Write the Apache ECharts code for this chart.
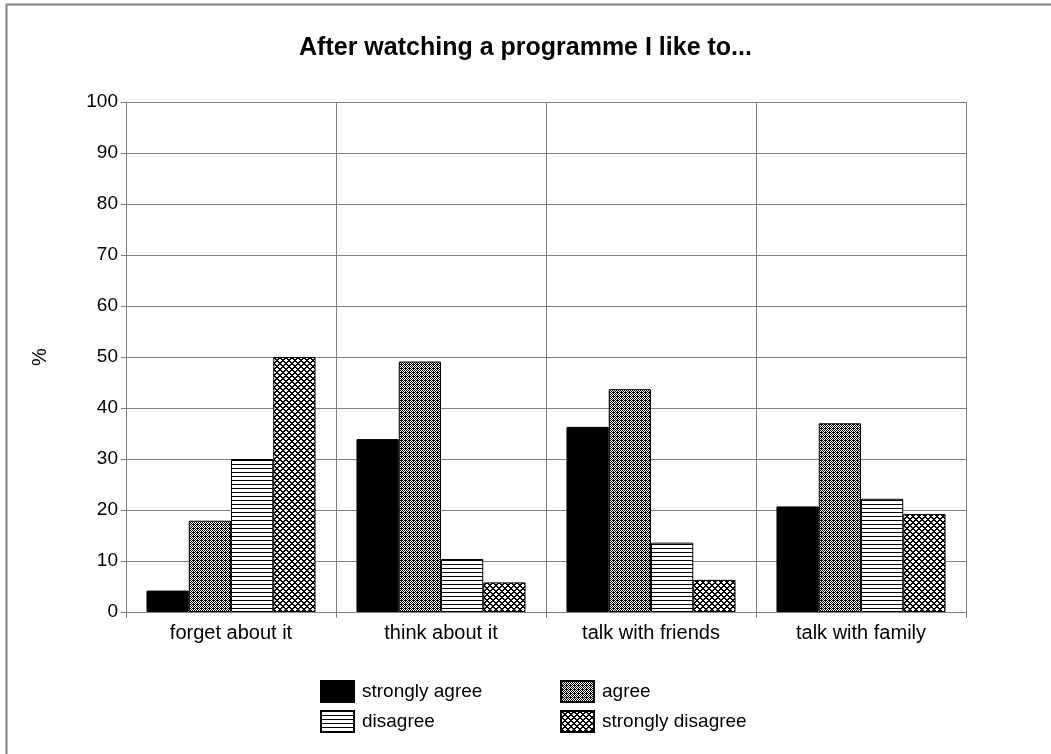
<!DOCTYPE html>
<html>
<head>
<meta charset="utf-8">
<script src="https://cdn.jsdelivr.net/npm/echarts@6/dist/echarts.min.js"></script>
<style>
html,body{margin:0;padding:0;background:#fff;}
#chart{width:1051px;height:754px;}
</style>
</head>
<body>
<div id="chart"></div>
<script>
const titleText = 'After watching a programme I like to...';
const categories = ['forget about it', 'think about it', 'talk with friends', 'talk with family'];
const seriesNames = ['strongly agree', 'agree', 'disagree', 'strongly disagree'];
const stronglyAgree = [4.2, 33.9, 36.3, 20.7];
const agree = [17.9, 49.1, 43.7, 37.0];
const disagree = [30.0, 10.4, 13.6, 22.2];
const stronglyDisagree = [50.0, 5.8, 6.3, 19.2];
const yTicks = [0, 10, 20, 30, 40, 50, 60, 70, 80, 90, 100];

function makePattern(size, fn) {
  const c = document.createElement('canvas');
  c.width = size; c.height = size;
  const ctx = c.getContext('2d');
  ctx.fillStyle = '#fff';
  ctx.fillRect(0, 0, size, size);
  ctx.fillStyle = '#000';
  for (let y = 0; y < size; y++) for (let x = 0; x < size; x++) if (fn(x, y)) ctx.fillRect(x, y, 1, 1);
  return c;
}
const patAgree = makePattern(4, (x, y) => ((x + y) % 2 === 0) || (x === 1 && y === 0));
const patDisagree = makePattern(4, (x, y) => y % 4 === 0);
const patSD = makePattern(6, (x, y) => {
  const a = (x + y) % 6, b = (x - y + 6) % 6;
  return a === 0 || a === 1 || b === 0 || b === 1;
});

const fills = [
  '#000000',
  { image: patAgree, repeat: 'repeat' },
  { image: patDisagree, repeat: 'repeat' },
  { image: patSD, repeat: 'repeat' }
];
const dataSets = [stronglyAgree, agree, disagree, stronglyDisagree];

const chart = echarts.init(document.getElementById('chart'), null, { renderer: 'canvas' });
const font = 'Liberation Sans, Arial, sans-serif';
const legendCommon = {
  orient: 'vertical',
  top: 680,
  padding: 0,
  icon: 'rect',
  itemWidth: 33, itemHeight: 21, itemGap: 7,
  textStyle: { fontFamily: font, fontSize: 19, color: '#000', padding: [0, 0, 0, 3] },
  selectedMode: false
};
chart.setOption({
  animation: false,
  backgroundColor: '#fff',
  textStyle: { fontFamily: font },
  title: {
    text: titleText,
    left: 'center',
    top: 31,
    textStyle: { fontFamily: font, fontSize: 25, fontWeight: 'bold', color: '#000' }
  },
  graphic: [{
    type: 'rect',
    shape: { x: 6.5, y: 4.5, width: 1100, height: 800 },
    style: { fill: 'none', stroke: '#808080', lineWidth: 2 },
    silent: true
  }],
  legend: [
    Object.assign({ data: [seriesNames[0], seriesNames[2]], left: 320 }, legendCommon),
    Object.assign({ data: [seriesNames[1], seriesNames[3]], left: 560 }, legendCommon)
  ],
  grid: { left: 126, right: 85, top: 102, bottom: 142, containLabel: false },
  xAxis: {
    type: 'category',
    data: categories,
    axisLine: { lineStyle: { color: '#808080', width: 1 } },
    axisTick: { show: true, length: 6, interval: 0, lineStyle: { color: '#808080' } },
    axisLabel: { fontFamily: font, fontSize: 20, color: '#000', margin: 11, interval: 0 },
    splitLine: { show: true, interval: 0, lineStyle: { color: '#808080', width: 1 } }
  },
  yAxis: {
    type: 'value',
    min: yTicks[0], max: yTicks[yTicks.length - 1], interval: 10,
    name: '%',
    nameLocation: 'middle',
    nameGap: 76,
    nameRotate: 90,
    nameTextStyle: { fontFamily: font, fontSize: 20, color: '#000' },
    axisLine: { show: true, lineStyle: { color: '#808080', width: 1 } },
    axisTick: { show: true, length: 5, lineStyle: { color: '#808080' } },
    axisLabel: { fontFamily: font, fontSize: 19, color: '#000', margin: 8 },
    splitLine: { show: true, lineStyle: { color: '#808080', width: 1 } }
  },
  series: seriesNames.map((name, i) => ({
    name: name,
    type: 'bar',
    data: dataSets[i],
    barGap: '0%',
    barCategoryGap: '19.5%',
    itemStyle: { color: fills[i], borderColor: '#000', borderWidth: 1 }
  }))
});
</script>
</body>
</html>
